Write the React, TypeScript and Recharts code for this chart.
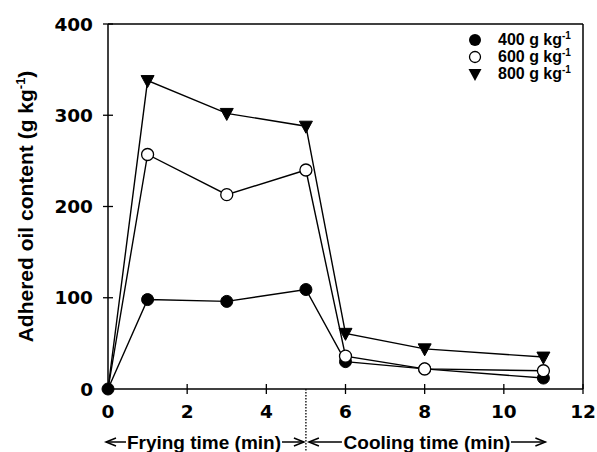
import React from "react";
import { LineChart, Line, XAxis, YAxis, ReferenceLine } from "recharts";

// time (min) and adhered oil (g/kg) for three dry matter levels
const times = [0, 1, 3, 5, 6, 8, 11];
const oil400 = [0, 98, 96, 109, 30, 22, 12];
const oil600 = [0, 257, 213, 240, 36, 22, 20];
const oil800 = [0, 338, 302, 288, 61, 44, 35];

const xTicks = [0, 2, 4, 6, 8, 10, 12];
const yTicks = [0, 100, 200, 300, 400];
const legendLabels = ["400 g kg", "600 g kg", "800 g kg"];

const data = times.map((t, i) => ({
  t,
  a: oil400[i],
  b: oil600[i],
  c: oil800[i],
}));

const TICK_FONT = "'DejaVu Sans', sans-serif";
const TEXT_FONT = "'Liberation Sans', Arial, sans-serif";

const YTick = (props: any) => {
  const { x, y, payload } = props;
  return (
    <g>
      <line x1={x - 5} x2={x + 5} y1={y} y2={y} stroke="#000" strokeWidth={1.3} />
      <text
        x={x - 15}
        y={y}
        dy="0.36em"
        textAnchor="end"
        fontFamily={TICK_FONT}
        fontWeight="bold"
        fontSize={18.5}
        fill="#000"
      >
        {payload.value}
      </text>
    </g>
  );
};

const XTick = (props: any) => {
  const { x, y, payload } = props;
  return (
    <g>
      <line x1={x} x2={x} y1={y - 5} y2={y + 5} stroke="#000" strokeWidth={1.3} />
      <text
        x={x}
        y={y + 29}
        textAnchor="middle"
        fontFamily={TICK_FONT}
        fontWeight="bold"
        fontSize={18.5}
        fill="#000"
      >
        {payload.value}
      </text>
    </g>
  );
};

const YLabel = (props: any) => {
  const { viewBox } = props;
  const cy = viewBox.y + viewBox.height / 2;
  return (
    <text
      transform={`translate(33, ${cy}) rotate(-90)`}
      textAnchor="middle"
      fontFamily={TEXT_FONT}
      fontWeight="bold"
      fontSize={21}
      fill="#000"
    >
      Adhered oil content (g kg
      <tspan dy={-8} fontSize={13}>-1</tspan>
      <tspan dy={8}>)</tspan>
    </text>
  );
};

const arrow = (x1: number, x2: number, y: number, key: string) => {
  const dir = x2 > x1 ? 1 : -1;
  return (
    <g key={key} stroke="#000" strokeWidth={1.5} fill="none">
      <line x1={x1} x2={x2} y1={y} y2={y} />
      <polyline points={`${x2 - dir * 10},${y - 4} ${x2},${y} ${x2 - dir * 10},${y + 4}`} />
    </g>
  );
};

const XLabel = (props: any) => {
  const { viewBox } = props;
  const sx = (v: number) => viewBox.x + (v / 12) * viewBox.width;
  const y = 449;
  const ay = 442;
  const fry = (sx(0) + sx(5)) / 2 - 3;
  const cool = 427;
  return (
    <g>
      {arrow(sx(0) + 18, sx(0) - 2, ay, "a1")}
      {arrow(fry + 78, sx(5) - 2, ay, "a2")}
      {arrow(sx(5) + 36, sx(5) + 3, ay, "a3")}
      {arrow(cool + 84, sx(11.05), ay, "a4")}
      <text
        x={fry}
        y={y}
        textAnchor="middle"
        fontFamily={TEXT_FONT}
        fontWeight="bold"
        fontSize={19}
        fill="#000"
      >
        Frying time (min)
      </text>
      <text
        x={cool}
        y={y}
        textAnchor="middle"
        fontFamily={TEXT_FONT}
        fontWeight="bold"
        fontSize={19}
        fill="#000"
      >
        Cooling time (min)
      </text>
    </g>
  );
};

const FilledDot = (props: any) => {
  const { cx, cy, index } = props;
  return <circle key={`f${index}`} cx={cx} cy={cy} r={6} fill="#000" stroke="#000" strokeWidth={1} />;
};

// the origin is shared by all series; only the filled marker shows there
const OpenDot = (props: any) => {
  const { cx, cy, index } = props;
  if (index === 0) return <g key={`o${index}`} />;
  return <circle key={`o${index}`} cx={cx} cy={cy} r={6} fill="#fff" stroke="#000" strokeWidth={1.3} />;
};

const TriDot = (props: any) => {
  const { cx, cy, index } = props;
  if (index === 0) return <g key={`t${index}`} />;
  return (
    <path
      key={`t${index}`}
      d={`M${cx - 6.5},${cy - 5} L${cx + 6.5},${cy - 5} L${cx},${cy + 7} Z`}
      fill="#000"
      stroke="#000"
      strokeWidth={1}
    />
  );
};

const DottedLine = (props: any) => {
  const { x1, y1, x2 } = props;
  return (
    <line
      x1={x1}
      x2={x2}
      y1={y1}
      y2={452}
      stroke="#000"
      strokeWidth={1.3}
      strokeDasharray="1.5 1.5"
    />
  );
};

const legendMarkers = [
  <circle cx={8} cy={8} r={6} fill="#000" />,
  <circle cx={8} cy={8} r={5.5} fill="#fff" stroke="#000" strokeWidth={1.3} />,
  <path d="M1.5,3 L14.5,3 L8,15 Z" fill="#000" />,
];

export default function App() {
  return (
    <div style={{ position: "absolute", left: 0, top: 0, width: 597, height: 452, background: "#fff" }}>
      <LineChart
        width={597}
        height={452}
        data={data}
        margin={{ top: 24, right: 14, bottom: 0, left: 20 }}
      >
        <XAxis
          dataKey="t"
          type="number"
          domain={[0, 12]}
          ticks={xTicks}
          tick={XTick}
          tickSize={0}
          tickMargin={0}
          tickLine={false}
          height={63}
          stroke="#000"
          strokeWidth={1.5}
          label={{ content: XLabel }}
        />
        <YAxis
          type="number"
          domain={[0, 400]}
          ticks={yTicks}
          tick={YTick}
          tickSize={0}
          tickMargin={0}
          tickLine={false}
          width={88}
          stroke="#000"
          strokeWidth={1.5}
          label={{ content: YLabel }}
        />
        <ReferenceLine y={400} stroke="#000" strokeWidth={1.5} />
        <ReferenceLine x={12} stroke="#000" strokeWidth={1.5} />
        <ReferenceLine x={5} shape={DottedLine} />
        <Line
          dataKey="a"
          stroke="#000"
          strokeWidth={1.4}
          dot={FilledDot}
          isAnimationActive={false}
        />
        <Line
          dataKey="c"
          stroke="#000"
          strokeWidth={1.4}
          dot={TriDot}
          isAnimationActive={false}
        />
        <Line
          dataKey="b"
          stroke="#000"
          strokeWidth={1.4}
          dot={OpenDot}
          isAnimationActive={false}
        />
      </LineChart>
      <div
        style={{
          position: "absolute",
          left: 467,
          top: 31,
          fontFamily: TEXT_FONT,
          fontWeight: "bold",
          fontSize: 16,
          lineHeight: "17px",
        }}
      >
        {legendLabels.map((lab, i) => (
          <div key={lab} style={{ display: "flex", alignItems: "center", height: 17 }}>
            <svg width={16} height={16} style={{ marginRight: 15 }}>
              {legendMarkers[i]}
            </svg>
            <span style={{ lineHeight: "15px" }}>
              {lab}
              <span style={{ fontSize: 10, position: "relative", top: -6, lineHeight: "10px" }}>-1</span>
            </span>
          </div>
        ))}
      </div>
    </div>
  );
}
